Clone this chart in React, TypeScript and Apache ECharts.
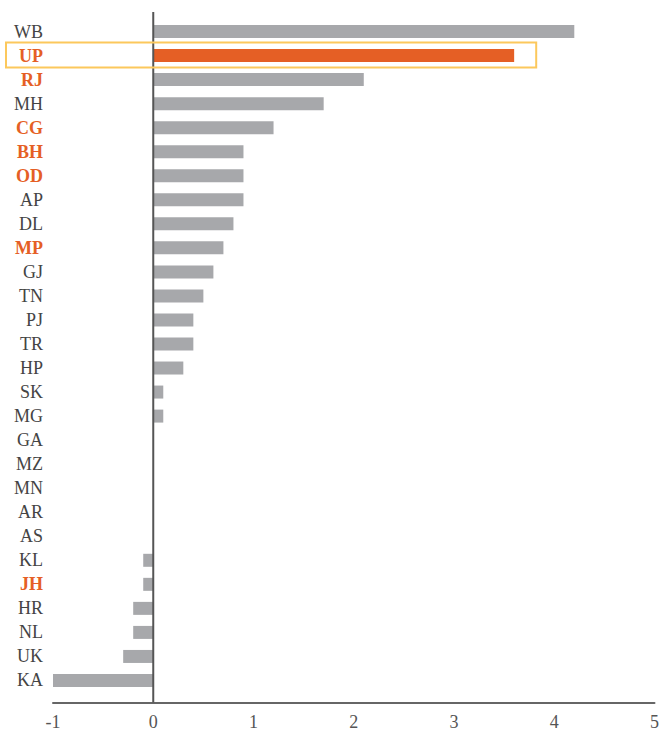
import React, { useEffect, useRef } from "react";
import * as echarts from "echarts";

const categories = ["WB","UP","RJ","MH","CG","BH","OD","AP","DL","MP","GJ","TN","PJ","TR","HP","SK","MG","GA","MZ","MN","AR","AS","KL","JH","HR","NL","UK","KA"];
const values = [4.2,3.6,2.1,1.7,1.2,0.9,0.9,0.9,0.8,0.7,0.6,0.5,0.4,0.4,0.3,0.1,0.1,0,0,0,0,0,-0.1,-0.1,-0.2,-0.2,-0.3,-1.0];
const boldLabels = ["UP","RJ","CG","BH","OD","MP","JH"];
const highlighted = "UP";
const highlightRight = 3.82;

const GRAY = "#a7a8ab";
const ORANGE = "#e55f25";
const FONT = "Liberation Serif";

export default function App() {
  const ref = useRef<HTMLDivElement>(null);
  useEffect(() => {
    if (!ref.current) return;
    const chart = echarts.init(ref.current, null, { renderer: "svg" });
    chart.setOption({
      animation: false,
      grid: { left: 53, right: 4, top: 19.5, height: 673, containLabel: false },
      xAxis: {
        type: "value",
        min: -1,
        max: 5,
        interval: 1,
        offset: 10,
        splitLine: { show: false },
        axisTick: { show: false },
        axisLine: { show: true, lineStyle: { color: "#666", width: 2 } },
        axisLabel: { color: "#555", fontFamily: FONT, fontSize: 18, margin: 10 },
      },
      yAxis: {
        type: "category",
        inverse: true,
        data: categories,
        axisLine: { show: false },
        axisTick: { show: false },
        axisLabel: {
          margin: 10,
          formatter: (v: string) => (boldLabels.includes(v) ? `{o|${v}}` : `{n|${v}}`),
          rich: {
            n: { color: "#444", fontFamily: FONT, fontSize: 18 },
            o: { color: ORANGE, fontFamily: FONT, fontSize: 18, fontWeight: "bold" },
          },
        },
      },
      series: [
        {
          type: "bar",
          barWidth: 13,
          data: values.map((v, i) => ({
            value: v,
            itemStyle: { color: categories[i] === highlighted ? ORANGE : GRAY },
          })),
        },
      ],
    });
    const [x0, yFirst] = chart.convertToPixel({ gridIndex: 0 }, [0, categories[0]]);
    const [, yLast] = chart.convertToPixel({ gridIndex: 0 }, [0, categories[categories.length - 1]]);
    const [xRight, yHi] = chart.convertToPixel({ gridIndex: 0 }, [highlightRight, highlighted]);
    chart.setOption({
      graphic: [
        {
          type: "line",
          shape: { x1: x0, y1: yFirst - 19.5, x2: x0, y2: yLast + 22 },
          style: { stroke: "#555", lineWidth: 2 },
          z: 100,
        },
        {
          type: "rect",
          shape: { x: 6, y: yHi - 13, width: xRight - 6, height: 25 },
          style: { fill: "none", stroke: "#fcc85c", lineWidth: 2 },
          z: 100,
        },
      ],
    });
    return () => chart.dispose();
  }, []);
  return <div ref={ref} style={{ position: "absolute", left: 0, top: 0, width: 662, height: 731 }} />;
}
